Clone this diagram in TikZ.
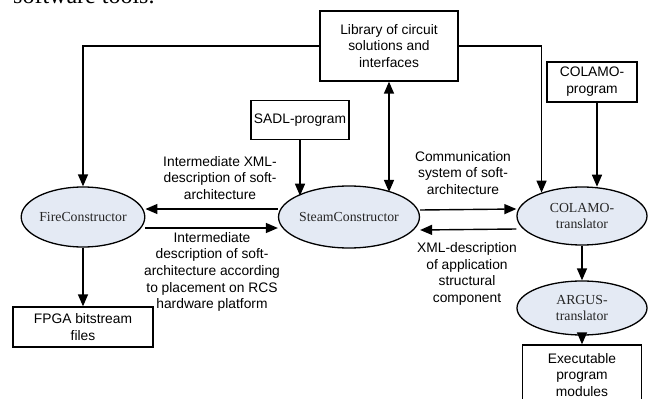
\documentclass[tikz,border=0pt]{standalone}
\usepackage{fontspec}
\setmainfont{Liberation Serif}
\setsansfont{Liberation Sans}
\usetikzlibrary{arrows.meta,shapes.geometric}
\definecolor{toolfill}{HTML}{E4EAF4}

\begin{document}
\begin{tikzpicture}[x=1pt, y=-1pt,
	box/.style={draw, line width=1.3pt, align=center, inner sep=0pt, font=\sffamily\fontsize{13.8}{16.8}\selectfont},
	tool/.style={ellipse, draw, line width=1.3pt, fill=toolfill, align=center, inner sep=0pt, text=black!85, font=\fontsize{13.8}{16.8}\selectfont},
	lbl/.style={align=center, inner sep=0pt, font=\sffamily\fontsize{13.8}{16.6}\selectfont},
	arr/.style={line width=1.4pt, -{Triangle[length=12pt,width=10pt]}},
	arrboth/.style={line width=1.4pt, {Triangle[length=12pt,width=10pt]}-{Triangle[length=12pt,width=10pt]}}]
			%%%%% START %%%%%
			
			\useasboundingbox (0, 0) rectangle (649, 399);
			\node[anchor=base west, inner sep=0pt, font=\fontsize{24}{28}\selectfont] (page) at (13, 3) {software tools.};
			
			\node[box, minimum width=138pt, minimum height=70pt] (lib) at (389, 46) {Library of circuit\\solutions and\\interfaces};
			\node[box, minimum width=98pt, minimum height=39pt] (sadl) at (300, 120) {SADL-program};
			\node[box, minimum width=90pt, minimum height=40pt] (colprog) at (592, 82) {COLAMO-\\program};
			
			\node[tool, minimum width=120pt, minimum height=60pt] (fire) at (83, 217) {FireConstructor};
			\node[tool, minimum width=132pt, minimum height=62pt] (steam) at (349, 217) {SteamConstructor};
			\node[tool, minimum width=130pt, minimum height=58pt] (colamo) at (582, 216) {COLAMO-\\translator};
			\node[tool, minimum width=130pt, minimum height=54pt] (argus) at (582, 308) {ARGUS-\\translator};
			
			\node[box, minimum width=140pt, minimum height=40pt] (fpga) at (83, 327) {FPGA bitstream\\files};
			\node[box, minimum width=119pt, minimum height=60pt] (exe) at (582, 375) {Executable\\program\\modules};
			
			\draw[arr] (lib.west) -| (fire.north);
			\draw[arr] (lib.east) -| (colamo.150);
			\draw[arrboth] (lib.south) -- (lib.south |- steam.30);
			\draw[arr] (sadl.south) -- (sadl.south |- steam.158);
			\draw[arr] ([xshift=5pt]colprog.south) -- ([xshift=5pt]colprog.south |- colamo.70);
			
			\draw[arr] ([yshift=8pt]steam.west) -- ([yshift=8pt]fire.east);
			\draw[arr] ([yshift=-11pt]fire.east) -- ([yshift=-11pt]steam.west);
			\draw[arr] ([yshift=7pt]steam.east) -- ([yshift=7pt]colamo.west);
			\draw[arr] ([yshift=-13pt]colamo.west) -- ([yshift=-13pt]steam.east);
			
			\draw[arr] (fire.south) -- (fpga.north);
			\draw[arr] (colamo.south) -- (argus.north);
			\draw[arr] (argus.south) -- (exe.north);
			
			\node[lbl] (xmlsoft) at (220, 178) {Intermediate XML-\\description of soft-\\architecture};
			\node[lbl] (place) at (212, 272) {Intermediate\\description of soft-\\architecture according\\to placement on RCS\\hardware platform};
			\node[lbl] (comm) at (463, 173) {Communication\\system of soft-\\architecture};
			\node[lbl] (xmlapp) at (467, 274) {XML-description\\of application\\structural\\component};
			
			%%%%% END %%%%%
\end{tikzpicture}
\end{document}
